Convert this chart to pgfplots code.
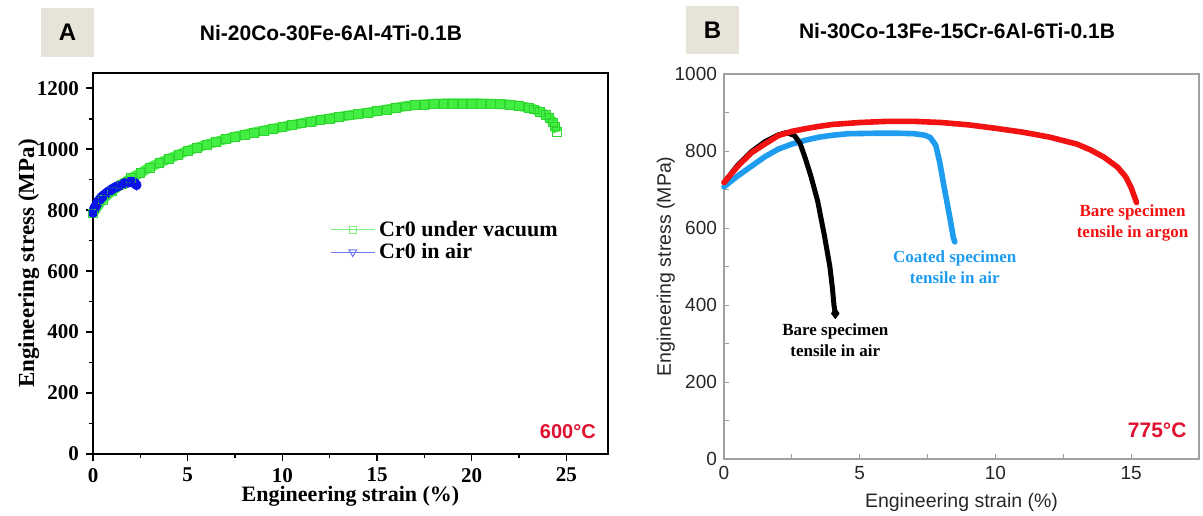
\documentclass[border=0pt]{standalone}
\usepackage{pgfplots}
\pgfplotsset{compat=1.18}
\usepackage{fontspec}
\setmainfont{Liberation Serif}
\newfontfamily\arial{Liberation Sans}

\definecolor{tagbeige}{HTML}{E8E3D8}
\definecolor{vacgreen}{HTML}{42EE42}
\definecolor{vacgreenedge}{HTML}{30D430}
\definecolor{vacgreenlight}{HTML}{7CF27C}
\definecolor{airblue}{HTML}{0A14E6}
\definecolor{airbluelight}{HTML}{6F74F0}
\definecolor{coatblue}{HTML}{1E9CF0}
\definecolor{argred}{HTML}{F21212}
\definecolor{tempred}{HTML}{E0102E}
\definecolor{framegray}{HTML}{A0A0A0}

% Panel A: Ni-20Co-30Fe-6Al-4Ti-0.1B at 600 C
\pgfplotstableread{
x y
0 790
0.5 835
1.0 862
1.5 885
2.0 905
2.5 922
3.0 940
3.5 955
4.0 968
4.5 982
5.0 995
5.5 1005
6.0 1015
6.5 1024
7.0 1033
7.5 1041
8.0 1048
8.5 1055
9.0 1061
9.5 1067
10 1073
10.5 1079
11 1085
11.5 1091
12 1096
12.5 1101
13 1106
13.5 1111
14 1115
14.5 1120
15 1125
15.5 1130
16 1136
16.5 1141
17 1145
17.5 1147
18 1149
18.5 1150
19 1150
19.5 1150
20 1150
20.5 1150
21 1149
21.5 1148
22 1146
22.5 1142
23 1136
23.3 1131
23.6 1123
23.9 1113
24.1 1103
24.3 1088
24.4 1075
24.5 1056
}\vacuumdata

\pgfplotstableread{
x y
0 790
0.05 800
0.1 808
0.2 820
0.3 830
0.4 838
0.5 845
0.65 852
0.8 860
0.95 866
1.1 872
1.25 877
1.4 881
1.55 885
1.7 889
1.85 891
2.0 893
2.15 892
2.3 882
}\airdata

% Panel B: Ni-30Co-13Fe-15Cr-6Al-6Ti-0.1B at 775 C
\pgfplotstableread{
x y
0 718
0.5 760
1 795
1.5 818
2 840
2.5 851
3 858
3.5 864
4 869
5 874
6 877
7 877
8 874
9 868
10 859
11 849
12 836
13 818
13.5 803
14 784
14.5 758
14.8 733
15.0 705
15.2 666
}\argondata

\pgfplotstableread{
x y
0 707
0.5 735
1 760
1.5 785
2 805
2.5 818
3 828
3.5 836
4 841
4.6 845
5.5 846
6.5 846
7.0 845
7.4 841
7.6 835
7.8 815
7.95 770
8.1 710
8.3 635
8.45 575
8.5 564
}\coateddata

\pgfplotstableread{
x y
0 718
0.5 763
1 798
1.5 824
2 842
2.3 848
2.6 840
2.8 820
3.0 780
3.2 735
3.45 670
3.7 580
3.9 500
4.0 440
4.05 400
4.1 378
}\bareairdata

\begin{document}
\begin{tikzpicture}
\path[use as bounding box] (0pt,0pt) rectangle (601.5pt,-257.5pt);

% panel tags and titles
\fill[tagbeige] (20.5pt,-4pt) rectangle (47pt,-28.5pt);
\node[font=\arial\bfseries\fontsize{12}{14}\selectfont] at (33.75pt,-16.25pt) {A};
\node[font=\arial\bfseries\fontsize{10.5}{12}\selectfont] at (165.5pt,-16.5pt) {Ni-20Co-30Fe-6Al-4Ti-0.1B};
\fill[tagbeige] (343pt,-3pt) rectangle (369.5pt,-27pt);
\node[font=\arial\bfseries\fontsize{12}{14}\selectfont] at (356.25pt,-15pt) {B};
\node[font=\arial\bfseries\fontsize{10.5}{12}\selectfont] at (478.5pt,-15.5pt) {Ni-30Co-13Fe-15Cr-6Al-6Ti-0.1B};

\begin{axis}[
  at={(46.5pt,-227pt)}, anchor=south west,
  width=257.5pt, height=190.5pt, scale only axis,
  xmin=0, xmax=27.2, ymin=0, ymax=1250,
  xtick={0,5,...,25}, ytick={0,200,...,1200},
  minor xtick={2.5,7.5,...,27.5}, minor ytick={100,300,...,1100},
  tick pos=left, tick align=outside,
  major tick length=3.5pt, minor tick length=2pt,
  axis line style={line width=1pt},
  every tick/.style={black, line width=0.8pt},
  /pgf/number format/assume math mode=true,
  /pgf/number format/1000 sep={},
  ticklabel style={font=\bfseries\fontsize{10.5}{12}\selectfont},
  xlabel={Engineering strain (\%)},
  ylabel={Engineering stress (MPa)},
  xlabel style={yshift=5pt, font=\bfseries\fontsize{11}{13}\selectfont},
  ylabel style={yshift=-8pt, font=\bfseries\fontsize{11.5}{13}\selectfont},
  legend style={at={(0.456,0.559)}, anchor=west, draw=none, fill=none,
    font=\bfseries\fontsize{11}{13}\selectfont, row sep=-2pt, inner sep=1pt},
  legend cell align=left,
  legend image code/.code={\draw[mark repeat=2,mark phase=2,#1] plot coordinates {(0pt,0pt) (11pt,0pt) (22pt,0pt)};},
  clip=false,
]
\addplot[vacgreen, line width=5pt, line join=round, forget plot] table {\vacuumdata};
\addplot[vacgreenedge, line width=0.3pt, only marks, mark=square, mark size=2.2pt, forget plot] table {\vacuumdata};
\addplot[airblue, line width=5pt, line join=round, line cap=round, forget plot] table {\airdata};
\addplot[airblue, only marks, mark=triangle, mark size=2.3pt, line width=0.5pt,
  mark options={rotate=180, fill=white, draw=airblue}, forget plot] table {\airdata};
\addlegendimage{vacgreenlight, line width=0.5pt, mark=square, mark size=1.8pt}
\addlegendentry{Cr0 under vacuum}
\addlegendimage{airbluelight, line width=0.5pt, mark=triangle, mark size=2.2pt, mark options={rotate=180, fill=white}}
\addlegendentry{Cr0 in air}
\node[anchor=east, font=\arial\bfseries\fontsize{10}{12}\selectfont, text=tempred] at (rel axis cs:0.99,0.058) {600°C};
\end{axis}

\begin{axis}[
  at={(362pt,-229.5pt)}, anchor=south west,
  width=237.5pt, height=192.5pt, scale only axis,
  xmin=0, xmax=17.5, ymin=0, ymax=1000,
  xtick={0,5,10,15}, minor xtick={2.5,7.5,12.5},
  ytick={0,200,...,1000}, minor ytick={100,300,...,900},
  tick pos=left, tick align=inside,
  major tick length=2.5pt, minor tick length=2.5pt,
  axis line style={framegray, line width=0.6pt},
  every tick/.style={framegray, line width=0.5pt},
  /pgf/number format/assume math mode=true,
  /pgf/number format/1000 sep={},
  ticklabel style={font=\arial\fontsize{9.5}{11}\selectfont, text=black!85},
  xlabel={Engineering strain (\%)},
  ylabel={Engineering stress (MPa)},
  label style={font=\arial\fontsize{9.75}{12}\selectfont, text=black!85},
  ylabel style={yshift=-7pt},
  clip=false,
]
\addplot[coatblue, line width=2.8pt, line cap=round, line join=round] table {\coateddata};
\addplot[black, line width=2.5pt, line cap=round, line join=round,
  mark=diamond*, mark indices={16}, mark size=2.5pt, mark options={line width=0.5pt}] table {\bareairdata};
\addplot[argred, line width=2.8pt, line cap=round, line join=round] table {\argondata};
\node[align=center, font=\bfseries\fontsize{8.5}{10.5}\selectfont, text=black] at (axis cs:4.1,309) {Bare specimen\\tensile in air};
\node[align=center, font=\bfseries\fontsize{8.5}{10.5}\selectfont, text=coatblue] at (axis cs:8.5,497) {Coated specimen\\tensile in air};
\node[align=center, font=\bfseries\fontsize{8.5}{10.5}\selectfont, text=argred] at (axis cs:15.05,613) {Bare specimen\\tensile in argon};
\node[anchor=east, font=\arial\bfseries\fontsize{10.5}{12}\selectfont, text=tempred] at (axis cs:17.3,75) {775°C};
\end{axis}
\end{tikzpicture}
\end{document}
